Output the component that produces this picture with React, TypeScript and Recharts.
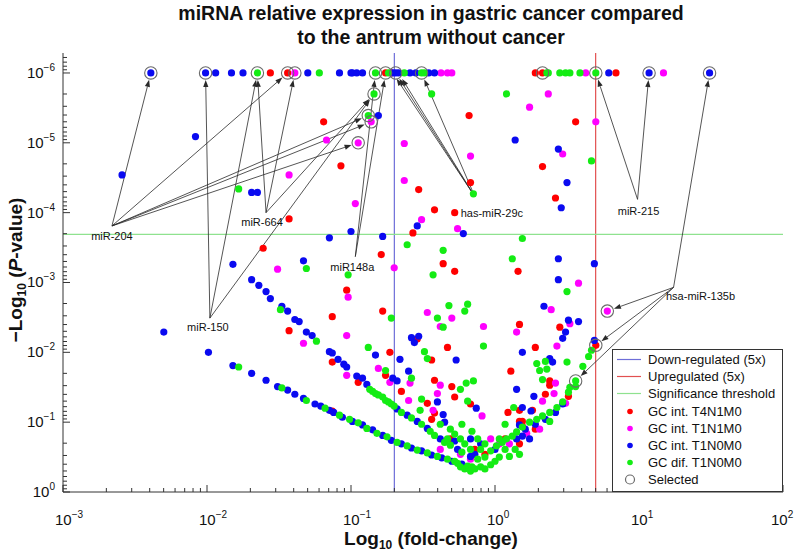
import React from 'react';
import { ScatterChart, Scatter, XAxis, YAxis, ReferenceLine, ReferenceDot } from 'recharts';

// x = log10(fold-change), y = -log10(P-value)
const xDecades = [-3, -2, -1, 0, 1, 2];
const yDecades = [0, 1, 2, 3, 4, 5, 6];
const minorSteps = [2, 3, 4, 5, 6, 7, 8, 9];
const xDomain: [number, number] = [-3, 2];
const yDomain: [number, number] = [0, 6.286];

const downFold = 0.2;
const upFold = 5;
const sigLevel = 3.69;

const t4n1m0: [number, number][] = [
  [-1.56, 6], [-1.44, 6], [-0.76, 6], [-0.72, 6], [0.28, 6], [0.33, 6], [0.84, 6],
  [-1.19, 5.3], [-1.07, 4.67], [-1.43, 3.91], [-1.61, 3.49], [-0.18, 5.39], [0.56, 5.3], [0.33, 4.66],
  [0.42, 4.21], [-0.17, 4.43], [-0.53, 4.33], [-0.42, 4.04], [-0.28, 4.0], [-0.57, 3.71], [-0.79, 3.4],
  [-1.03, 2.89], [-0.36, 3.27], [-0.28, 3.16], [0.16, 3.16], [-0.78, 2.59], [-1.13, 2.51], [-0.54, 2.19],
  [-0.33, 2.07], [0.17, 2.4], [0.45, 2.36], [0.28, 2.07], [0.7, 2.1], [-0.73, 2.0], [-0.44, 1.89],
  [-0.76, 1.67], [-0.42, 1.6], [-0.3, 1.51], [-0.65, 1.44], [-0.28, 1.36], [-0.47, 1.27], [-0.17, 1.26],
  [-0.42, 1.13], [-0.44, 1.04], [0.09, 1.14], [0.11, 1.73], [0.35, 1.4], [0.38, 1.59], [0.38, 1.53],
  [0.17, 1.17], [0.26, 1.17], [0.17, 1.01], [0.19, 1.01], [0.19, 0.94], [-1.43, 2.31], [-1.13, 1.86],
  [-0.95, 1.57], [-1.13, 1.16], [0.51, 1.37], [-0.31, 0.76], [-0.14, 0.61], [0.07, 0.76], [-0.07, 0.54],
  [0.17, 0.69], [0.28, 0.9],
];

const t1n1m0: [number, number][] = [
  [-1.39, 6], [-0.375, 6], [-0.33, 6], [-0.3, 6], [0.63, 6], [1.17, 6],
  [-1.17, 5.04], [-0.95, 5.0], [-0.86, 5.3], [-1.43, 4.54], [-0.97, 4.13], [-0.63, 4.99], [-0.17, 4.81],
  [0.37, 5.7], [0.24, 5.51], [0.7, 5.3], [0.47, 4.84], [-0.63, 4.46], [-0.51, 3.9], [-0.26, 3.77],
  [-0.7, 3.21], [-1.02, 2.79], [-1.51, 3.19], [-1.33, 2.13], [-1.03, 2.24], [-1.03, 1.67], [0.58, 2.99],
  [-0.47, 2.57], [-0.3, 2.49], [-0.08, 2.37], [-0.38, 2.37], [0.15, 2.29], [0.39, 2.61], [0.52, 2.41],
  [0.43, 2.09], [0.78, 2.59], [-0.81, 1.77], [-0.59, 1.56], [-0.73, 1.57], [-0.38, 1.53], [-0.4, 1.41],
  [-0.6, 1.31], [-0.09, 1.09], [-0.43, 1.17], [0.42, 1.56], [0.33, 1.3], [0.41, 1.41], [0.49, 1.27],
  [-0.38, 0.61], [0.03, 0.69], [-0.17, 0.47], [-0.24, 0.54], [-0.03, 0.76], [0.1, 0.69], [0.31, 0.9],
  [0.22, 0.84],
];

const t1n0m0: [number, number][] = [
  [-2.39, 6], [-2.01, 6], [-1.94, 6], [-1.83, 6], [-1.75, 6], [-1.3, 6], [-1.08, 6], [-1.0, 6], [-0.99, 6],
  [-0.96, 6], [-0.92, 6], [-0.71, 6], [-0.69, 6], [-0.67, 6], [-0.59, 6], [-0.55, 6], [-0.46, 6], [-0.42, 6],
  [0.79, 6], [1.07, 6], [1.49, 6],
  [-2.59, 4.54], [-2.08, 5.09], [-1.69, 4.29], [-1.65, 4.29], [-1.0, 3.73], [-1.15, 3.64], [-0.81, 5.39],
  [-0.78, 3.66], [0.14, 5.04], [0.44, 4.91], [0.5, 4.43], [0.46, 4.07], [-0.54, 3.81], [-0.22, 3.7],
  [0.44, 3.34], [0.69, 3.27], [0.44, 3.04], [-1.82, 3.26], [-1.33, 3.31], [-0.58, 2.21], [-0.53, 2.23],
  [-0.56, 2.14], [0.34, 2.66], [0.51, 2.46], [0.58, 2.44], [0.49, 2.29], [0.47, 2.2], [0.19, 2.0],
  [0.69, 2.17], [-0.83, 1.96], [-0.66, 1.9], [-0.27, 1.89], [-0.71, 1.63], [-0.68, 1.59], [-0.6, 1.73],
  [-0.4, 1.29], [-0.13, 1.2], [-0.36, 1.11], [-0.35, 1.0], [0.15, 1.47], [0.38, 1.91], [0.4, 1.86],
  [0.27, 1.37], [0.47, 1.26], [0.19, 1.21], [0.25, 1.16], [0.42, 1.14], [0.17, 0.96],
  [-1.69, 3.04], [-1.64, 2.96], [-1.59, 2.87], [-1.56, 2.77], [-1.48, 2.66], [-1.44, 2.59], [-1.39, 2.47],
  [-1.36, 2.44], [-1.31, 2.29], [-1.27, 2.24], [-1.15, 2.01], [-1.13, 1.99], [-1.09, 1.9], [-1.05, 1.83],
  [-1.03, 1.79], [-0.96, 1.66], [-0.92, 1.63], [-0.89, 1.54], [-0.68, 1.19], [-0.61, 1.1], [-0.54, 1.01],
  [-0.47, 0.91], [-0.38, 0.76], [-0.26, 0.61], [-0.17, 0.51],
  [-2.3, 2.29], [-1.99, 2.0], [-1.82, 1.81], [-1.69, 1.7], [-1.59, 1.6], [-1.51, 1.51], [-1.44, 1.46],
  [-1.39, 1.4], [-1.33, 1.34], [-1.25, 1.26], [-1.21, 1.23], [-1.15, 1.17], [-1.12, 1.14], [-1.06, 1.07],
  [-0.99, 1.01], [-0.92, 0.96], [-0.85, 0.89], [-0.78, 0.81], [-0.72, 0.74], [-0.65, 0.69], [-0.58, 0.63],
  [-0.51, 0.59], [-0.44, 0.53], [-0.37, 0.49], [-0.3, 0.44], [-0.23, 0.4],
  [-0.14, 0.54], [-0.1, 0.69], [0.0, 0.61], [0.21, 0.9], [0.24, 0.76], [0.15, 0.76], [0.19, 0.8],
  [-0.17, 0.76], [-0.28, 0.73], [0.28, 0.97], [0.35, 1.04],
];

const difT1n0m0: [number, number][] = [
  [-1.65, 6], [-1.22, 6], [-0.83, 6], [-0.74, 6], [-0.63, 6], [-0.51, 6], [-0.49, 6], [0.36, 6], [0.37, 6],
  [0.45, 6], [0.49, 6], [0.52, 6], [0.59, 6], [0.7, 6],
  [-0.84, 5.7], [-0.88, 5.39], [-0.44, 5.7], [0.08, 5.7], [-1.78, 4.34], [0.67, 4.74], [-0.15, 4.27],
  [0.19, 3.63], [-0.61, 3.54], [-0.36, 3.46], [-1.02, 3.11], [-0.43, 3.11], [0.12, 3.34], [0.5, 2.87],
  [-1.31, 3.2], [-0.72, 2.49], [-0.32, 2.67], [-0.19, 2.69], [-0.21, 2.59], [-0.4, 2.49], [-0.36, 2.36],
  [-0.08, 2.09], [-0.88, 2.07], [-0.49, 2.01], [-0.47, 1.91], [-0.76, 1.74], [-0.58, 1.63], [-0.2, 1.56],
  [-0.15, 1.59], [-0.24, 1.47], [-0.51, 1.33], [-0.19, 1.3], [-0.52, 1.17], [0.13, 1.21], [0.29, 1.84],
  [0.31, 1.74], [0.35, 1.87], [0.36, 1.76], [0.33, 1.61], [0.5, 1.86], [0.56, 1.59], [0.51, 1.43],
  [0.38, 1.01], [0.07, 0.97], [0.67, 2.03], [0.65, 1.94],
  [-1.49, 2.61], [-1.24, 2.16], [-0.87, 1.47], [-0.85, 1.44], [-0.83, 1.41], [-0.81, 1.39], [-0.78, 1.36],
  [-0.76, 1.31], [-0.74, 1.29], [-0.72, 1.26], [-0.7, 1.23], [-0.65, 1.14], [-0.58, 1.06], [-0.51, 0.97],
  [-0.45, 0.87], [-0.42, 0.81], [-0.35, 0.71], [-0.31, 0.67], [-0.23, 0.57],
  [-1.78, 1.79], [-1.48, 1.49], [-1.31, 1.31], [-1.18, 1.2], [-1.08, 1.1], [-1.01, 1.04], [-0.95, 0.99],
  [-0.89, 0.91], [-0.82, 0.84], [-0.75, 0.79], [-0.68, 0.71], [-0.61, 0.66], [-0.54, 0.6], [-0.47, 0.56],
  [-0.4, 0.51], [-0.33, 0.47], [-0.26, 0.41], [-0.19, 0.37], [-0.16, 0.36],
  [0.01, 0.66], [0.05, 0.71], [0.08, 0.76], [0.12, 0.8], [0.15, 0.86], [0.19, 0.93], [0.24, 1.0],
  [0.29, 1.04], [0.33, 1.09], [0.38, 1.14], [0.43, 1.21], [0.47, 1.29], [0.52, 1.5], [0.56, 1.51],
  [0.61, 1.8],
  [-0.28, 0.44], [-0.24, 0.36], [-0.21, 0.33], [-0.17, 0.3], [-0.14, 0.33], [-0.1, 0.36], [-0.07, 0.33],
  [-0.03, 0.39], [0.0, 0.44], [0.03, 0.5], [-0.12, 0.47], [-0.17, 0.61], [-0.21, 0.69], [-0.24, 0.76],
  [-0.28, 0.83], [-0.31, 0.9], [-0.1, 0.61], [-0.07, 0.69], [-0.03, 0.59], [-0.12, 0.76], [-0.23, 0.97],
  [-0.16, 0.87], [-0.07, 0.5], [0.07, 0.61], [0.1, 0.51], [0.14, 0.61], [0.17, 0.54], [0.03, 0.76],
  [-0.38, 0.97], [-0.33, 0.76],
];

const selected: [number, number][] = [
  [-2.39, 6], [-2.01, 6], [-1.65, 6], [-1.44, 6], [-1.39, 6], [-0.83, 6], [-0.76, 6], [-0.69, 6],
  [-0.51, 6], [0.33, 6], [0.7, 6], [1.07, 6], [1.49, 6], [-0.84, 5.7], [-0.88, 5.39], [-0.86, 5.3],
  [-0.95, 5.0], [0.78, 2.59], [0.7, 2.1], [0.56, 1.59],
];

const annotations = [
  { label: 'miR-204', at: [-2.66, 3.81], dx: 0, dy: 14,
    to: [[-2.39, 6], [-1.44, 6], [-0.88, 5.39], [-0.86, 5.3], [-0.95, 5.0]] },
  { label: 'miR-664', at: [-1.59, 4.0], dx: -4, dy: 13, to: [[-1.65, 6], [-1.39, 6], [-0.84, 5.7]] },
  { label: 'miR-150', at: [-1.98, 2.49], dx: -2, dy: 13, to: [[-2.01, 6], [-1.65, 6], [-0.84, 5.7]] },
  { label: 'miR148a', at: [-0.97, 3.37], dx: -3, dy: 14, to: [[-0.83, 6], [-0.76, 6]] },
  { label: 'has-miR-29c', at: [-0.14, 4.23], dx: 17, dy: 20,
    to: [[-0.71, 6], [-0.69, 6], [-0.67, 6], [-0.51, 6]] },
  { label: 'miR-215', at: [0.99, 4.19], dx: 1, dy: 16, to: [[0.7, 6], [1.07, 6]] },
  { label: 'hsa-miR-135b', at: [1.24, 2.93], dx: 27, dy: 13,
    to: [[1.49, 6], [0.78, 2.59], [0.7, 2.1], [0.56, 1.59]] },
];

const colors = {
  t4: '#ff0000',
  t1n1: '#ff00ff',
  t1n0: '#0a0af0',
  dif: '#14ec14',
  down: '#6e6ed8',
  up: '#e25050',
  sig: '#8fe28f',
  ring: '#6a6a6a',
};

const FONT = '"Liberation Sans", Arial, sans-serif';

const isMajor = (v: number) => Math.abs(v - Math.round(v)) < 1e-6;
const expText = (n: number) => (n < 0 ? '\u2212' + Math.abs(n) : String(n));

const xTicks = [
  ...xDecades,
  ...xDecades.flatMap((d) => minorSteps.map((k) => d + Math.log10(k))),
].filter((v) => v <= xDomain[1] + 1e-9);

const yTicks = [
  ...yDecades,
  ...yDecades.flatMap((n) => minorSteps.map((k) => n + 1 - Math.log10(k))),
].filter((v) => v <= yDomain[1] + 1e-9);

const toPoints = (arr: [number, number][]) => arr.map(([x, y]) => ({ x, y }));

const dot = (color: string) => (p: any) => <circle cx={p.cx} cy={p.cy} r={3.6} fill={color} />;
const ring = (p: any) => <circle cx={p.cx} cy={p.cy} r={6.2} fill="none" stroke={colors.ring} strokeWidth={1.1} />;

const BottomTick = ({ x, y, payload }: any) => {
  const major = isMajor(payload.value);
  // last label sits at the right edge of the page, nudge it in a little
  const shift = payload.value >= xDomain[1] - 1e-9 ? 4 : 0;
  return (
    <g>
      <line x1={x} y1={y} x2={x} y2={y - (major ? 7 : 4)} stroke="#333" />
      {major && (
        <text x={x - 8 - shift} y={y + 33} fontSize={15} fill="#111" fontFamily={FONT}>
          10<tspan dy={-7} fontSize={10}>{expText(Math.round(payload.value))}</tspan>
        </text>
      )}
    </g>
  );
};

const TopTick = ({ x, y, payload }: any) => (
  <line x1={x} y1={y} x2={x} y2={y + (isMajor(payload.value) ? 7 : 4)} stroke="#333" />
);

const LeftTick = ({ x, y, payload }: any) => {
  const major = isMajor(payload.value);
  return (
    <g>
      <line x1={x} y1={y} x2={x + (major ? 7 : 4)} y2={y} stroke="#333" />
      {major && (
        <text x={x - 8} y={y + 5} fontSize={15} fill="#111" fontFamily={FONT} textAnchor="end">
          10<tspan dy={-7} fontSize={10}>{expText(-Math.round(payload.value))}</tspan>
        </text>
      )}
    </g>
  );
};

const RightTick = ({ x, y, payload }: any) => (
  <line x1={x} y1={y} x2={x - (isMajor(payload.value) ? 7 : 4)} y2={y} stroke="#333" />
);

const Arrow = (p: any) => {
  const { x1, y1, x2, y2 } = p;
  const len = Math.hypot(x2 - x1, y2 - y1) || 1;
  const ux = (x2 - x1) / len;
  const uy = (y2 - y1) / len;
  const tx = x2 - ux * 7;
  const ty = y2 - uy * 7;
  const bx = tx - ux * 7;
  const by = ty - uy * 7;
  const px = -uy * 2.6;
  const py = ux * 2.6;
  return (
    <g>
      <line x1={x1} y1={y1} x2={bx} y2={by} stroke="#2a2a2a" strokeWidth={0.8} />
      <polygon points={`${tx},${ty} ${bx + px},${by + py} ${bx - px},${by - py}`} fill="#2a2a2a" />
    </g>
  );
};

const legendItems = [
  { label: 'Down-regulated (5x)', kind: 'line', color: colors.down },
  { label: 'Upregulated (5x)', kind: 'line', color: colors.up },
  { label: 'Significance threshold', kind: 'line', color: colors.sig },
  { label: 'GC int. T4N1M0', kind: 'dot', color: colors.t4 },
  { label: 'GC int. T1N1M0', kind: 'dot', color: colors.t1n1 },
  { label: 'GC int. T1N0M0', kind: 'dot', color: colors.t1n0 },
  { label: 'GC dif. T1N0M0', kind: 'dot', color: colors.dif },
  { label: 'Selected', kind: 'ring', color: colors.ring },
];

const LegendBox = () => (
  <div
    style={{
      position: 'absolute', left: 612, top: 349, width: 171, height: 143, boxSizing: 'border-box',
      border: '1px solid #333', background: '#fff', paddingTop: 1, fontFamily: FONT, fontSize: 13, color: '#111',
    }}
  >
    {legendItems.map((item) => (
      <div key={item.label} style={{ display: 'flex', alignItems: 'center', height: 17.2 }}>
        <svg width={34} height={17} style={{ flex: 'none' }}>
          {item.kind === 'line' && <line x1={4} y1={8.5} x2={28} y2={8.5} stroke={item.color} strokeWidth={1.2} />}
          {item.kind === 'dot' && <circle cx={17} cy={8.5} r={2.8} fill={item.color} />}
          {item.kind === 'ring' && <circle cx={17} cy={8.5} r={4.5} fill="none" stroke={item.color} strokeWidth={1.2} />}
        </svg>
        <span style={{ marginLeft: 1, whiteSpace: 'nowrap' }}>{item.label}</span>
      </div>
    ))}
  </div>
);

const App = () => {
  return (
    <div style={{ position: 'absolute', left: 0, top: 0, width: 794, height: 551, background: '#fff' }}>
      <ScatterChart width={794} height={551} margin={{ top: 53, right: 11, bottom: 0, left: 0 }}>
        <XAxis xAxisId="b" type="number" dataKey="x" domain={xDomain} allowDataOverflow ticks={xTicks}
          interval={0} tickSize={0} tickMargin={0} tickLine={false} axisLine={{ stroke: '#333' }}
          tick={<BottomTick />} height={59} />
        <XAxis xAxisId="t" orientation="top" type="number" dataKey="x" domain={xDomain} allowDataOverflow
          ticks={xTicks} interval={0} tickSize={0} tickMargin={0} tickLine={false} axisLine={{ stroke: '#333' }}
          tick={<TopTick />} height={0} />
        <YAxis yAxisId="l" type="number" dataKey="y" domain={yDomain} allowDataOverflow ticks={yTicks}
          interval={0} tickSize={0} tickMargin={0} tickLine={false} axisLine={{ stroke: '#333' }}
          tick={<LeftTick />} width={63} />
        <YAxis yAxisId="r" orientation="right" type="number" dataKey="y" domain={yDomain} allowDataOverflow
          ticks={yTicks} interval={0} tickSize={0} tickMargin={0} tickLine={false} axisLine={{ stroke: '#333' }}
          tick={<RightTick />} width={0} />

        <ReferenceLine xAxisId="b" yAxisId="l" x={Math.log10(downFold)} stroke={colors.down} strokeWidth={1.2} />
        <ReferenceLine xAxisId="b" yAxisId="l" x={Math.log10(upFold)} stroke={colors.up} strokeWidth={1.2} />
        <ReferenceLine xAxisId="b" yAxisId="l" y={sigLevel} stroke={colors.sig} strokeWidth={1.2} />

        <Scatter name="GC int. T4N1M0" xAxisId="b" yAxisId="l" data={toPoints(t4n1m0)} shape={dot(colors.t4)} isAnimationActive={false} />
        <Scatter name="GC int. T1N1M0" xAxisId="b" yAxisId="l" data={toPoints(t1n1m0)} shape={dot(colors.t1n1)} isAnimationActive={false} />
        <Scatter name="GC int. T1N0M0" xAxisId="b" yAxisId="l" data={toPoints(t1n0m0)} shape={dot(colors.t1n0)} isAnimationActive={false} />
        <Scatter name="GC dif. T1N0M0" xAxisId="b" yAxisId="l" data={toPoints(difT1n0m0)} shape={dot(colors.dif)} isAnimationActive={false} />
        <Scatter name="Selected" xAxisId="t" yAxisId="r" data={toPoints(selected)} shape={ring} isAnimationActive={false} />

        {annotations.flatMap((a) =>
          a.to.map((t, i) => (
            <ReferenceLine key={`${a.label}-${i}`} xAxisId="b" yAxisId="l" ifOverflow="visible"
              segment={[{ x: a.at[0], y: a.at[1] }, { x: t[0], y: t[1] }]} shape={Arrow} />
          ))
        )}
        {annotations.map((a) => (
          <ReferenceDot key={a.label} xAxisId="b" yAxisId="l" x={a.at[0]} y={a.at[1]} r={0} ifOverflow="visible"
            shape={(p: any) => (
              <text x={p.cx + a.dx} y={p.cy + a.dy} textAnchor="middle" fontSize={11} fill="#111" fontFamily={FONT}>
                {a.label}
              </text>
            )} />
        ))}
      </ScatterChart>

      <LegendBox />

      <svg width={794} height={551} style={{ position: 'absolute', left: 0, top: 0, pointerEvents: 'none' }}>
        <g fontFamily={FONT} fontWeight="bold" fill="#111">
          <text x={431} y={20} fontSize={19.5} textAnchor="middle">miRNA relative expression in gastric cancer compared</text>
          <text x={431} y={44} fontSize={19.5} textAnchor="middle">to the antrum without cancer</text>
          <text x={431} y={545} fontSize={19} textAnchor="middle">
            Log<tspan dy={4} fontSize={12}>10</tspan><tspan dy={-4}> (fold-change)</tspan>
          </text>
          <text transform="translate(22,270) rotate(-90)" fontSize={19} textAnchor="middle">
            {'\u2212'}Log<tspan dy={4} fontSize={12}>10</tspan><tspan dy={-4}> (</tspan>
            <tspan fontStyle="italic">P</tspan>-value)
          </text>
        </g>
      </svg>
    </div>
  );
};

export default App;
